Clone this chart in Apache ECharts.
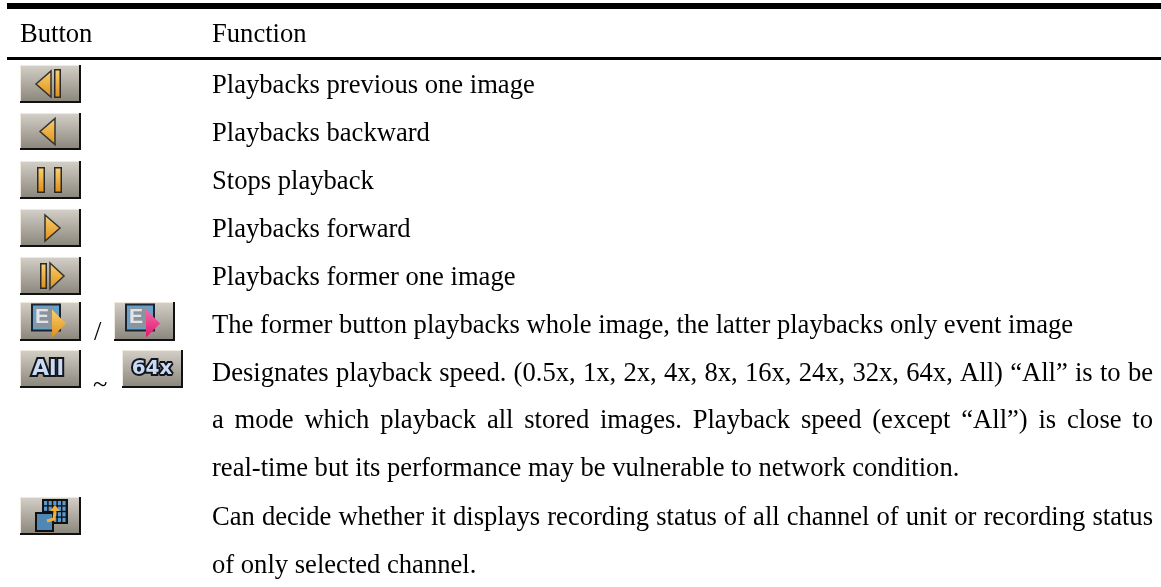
<!DOCTYPE html>
<html><head><meta charset="utf-8">
<style>html,body{margin:0;padding:0;background:#fff}#c{width:1161px;height:587px}</style>
<script src="https://cdn.jsdelivr.net/npm/echarts@6/dist/echarts.min.js"></script>
</head><body><div id="c"></div>
<script>
const headers = ["Button", "Function"];
const rowTexts = [
  ["Playbacks previous one image", false],
  ["Playbacks backward", false],
  ["Stops playback", false],
  ["Playbacks forward", false],
  ["Playbacks former one image", false],
  ["The former button playbacks whole image, the latter playbacks only event image", false],
  ["Designates playback speed. (0.5x, 1x, 2x, 4x, 8x, 16x, 24x, 32x, 64x, All) \u201cAll\u201d is to be", true],
  ["a mode which playback all stored images. Playback speed (except \u201cAll\u201d) is close to", true],
  ["real-time but its performance may be vulnerable to network condition.", false],
  ["Can decide whether it displays recording status of all channel of unit or recording status", true],
  ["of only selected channel.", false]
];
const rowBaselines = [93,141,189,237,285,333,381,428,476,525,573];
const iconRows = [
 {t:65,h:38,x:[20],k:['prev']},
 {t:113,h:37,x:[20],k:['back']},
 {t:161,h:38,x:[20],k:['pause']},
 {t:209,h:38,x:[20],k:['fwd']},
 {t:257,h:38,x:[20],k:['next']},
 {t:302,h:39,x:[20,114],k:['ev','evp']},
 {t:350,h:38,x:[20,122],k:['all','x64']},
 {t:497,h:38,x:[20],k:['grid']}
];
const sepText = [{s:'/',x:94,y:340},{s:'~',x:93,y:393}];
const fs = 26.6;
const font = fs+'px "Liberation Serif"';
const tx = 212, right = 1153;
const ctx = document.createElement('canvas').getContext('2d');
ctx.font = font;
const g = [];
function rect(x,y,w,h,fill,z){g.push({type:'rect',shape:{x,y,width:w,height:h},style:{fill},z:z||1,silent:true});}
function poly(points,fill,stroke,lw){g.push({type:'polygon',shape:{points},style:{fill,stroke:stroke||null,lineWidth:lw||0},z:3,silent:true});}
function grad(c1,c2){return new echarts.graphic.LinearGradient(0,0,0,1,[{offset:0,color:c1},{offset:1,color:c2}]);}
const orange = grad('#f8d070','#e09018');
function text(s,x,y){g.push({type:'text',x,y:y-fs*0.28,style:{text:s,font,fill:'#000',verticalAlign:'middle',align:'left'},z:5,silent:true});}
function bar(x,y,w,h){rect(x,y,w,h,'#2a2a2a',3);rect(x+1.5,y+1.5,w-3,h-3,orange,4);}
function label(s,x,y,size){
  g.push({type:'text',x,y,style:{text:s,font:'bold '+size+'px "DejaVu Sans"',fill:'#c8dcf6',stroke:'#14141c',lineWidth:4,verticalAlign:'middle',align:'center'},z:4,silent:true});
}
function icon(x,t,h,k){
  const w=61, c=t+h/2;
  rect(x,t,w,h,'#111');
  rect(x,t,w-2,h-2,'#efeadd');
  rect(x+1,t+1,w-3,h-3,grad('#d2cec6','#8c887e'));
  const ox=x, oy=c;
  if(k==='prev'){poly([[ox+16,oy],[ox+31,oy-13],[ox+31,oy+13]],orange,'#333',1.5);bar(ox+34,oy-15,7,29);}
  if(k==='back'){poly([[ox+20,oy],[ox+35,oy-13],[ox+35,oy+13]],orange,'#333',1.5);}
  if(k==='pause'){bar(ox+17,oy-13,8,26);bar(ox+34,oy-13,8,26);}
  if(k==='fwd'){poly([[ox+25,oy-13],[ox+40,oy],[ox+25,oy+13]],orange,'#333',1.5);}
  if(k==='next'){bar(ox+20,oy-13,7,26);poly([[ox+30,oy-13],[ox+44,oy],[ox+30,oy+13]],orange,'#333',1.5);}
  if(k==='ev'||k==='evp'){
    rect(ox+11,oy-18,30,28,'#1a2430',3);
    rect(ox+13,oy-16,26,24,'#6aa0c8',3);
    rect(ox+15,oy-14,19,20,'#8a949c',3);
    g.push({type:'text',x:ox+22,y:oy-4,style:{text:'E',font:'bold 21px "Liberation Sans"',fill:'#e0e4e8',verticalAlign:'middle',align:'center'},z:4,silent:true});
    poly([[ox+32,oy-12],[ox+46,oy+2],[ox+32,oy+16]],k==='ev'?orange:grad('#f46aa8','#e01870'),null,0);
  }
  if(k==='all') label('All',ox+28,c,22);
  if(k==='x64') label('64x',ox+30,c,20);
  if(k==='grid'){
    rect(ox+22,oy-17,26,25,'#111',3);
    for(let i=0;i<5;i++)for(let j=0;j<4;j++)rect(ox+24+i*4.6,oy-15+j*5.6,3.2,4.2,'#5a9ad0',3);
    rect(ox+15,oy-4,19,20,'#111',4);
    rect(ox+17,oy-2,15,16,'#4f88b4',4);
    g.push({type:'polyline',shape:{points:[[ox+27,oy+5],[ox+34,oy+3],[ox+35,oy-5]]},style:{stroke:'#f0b040',lineWidth:3,fill:null},z:5,silent:true});
    poly([[ox+30,oy-5],[ox+35,oy-11],[ox+40,oy-5]],'#f0b040',null,0);
  }
}
rect(7,3,1154,6,'#000');
rect(7,57,1154,3,'#000');
text(headers[0],20,42);
text(headers[1],tx,42);
rowTexts.forEach((r,i)=>{
  const y=rowBaselines[i];
  if(!r[1]){text(r[0],tx,y);return;}
  const words=r[0].split(' ');
  const total=words.reduce((a,w)=>a+ctx.measureText(w).width,0);
  const gap=(right-tx-total)/(words.length-1);
  let x=tx;
  words.forEach(w=>{text(w,x,y);x+=ctx.measureText(w).width+gap;});
});
iconRows.forEach(r=>r.x.forEach((x,i)=>icon(x,r.t,r.h,r.k[i])));
sepText.forEach(s=>text(s.s,s.x,s.y));
const chart=echarts.init(document.getElementById('c'),null,{renderer:'canvas'});
chart.setOption({animation:false,backgroundColor:'#fff',graphic:{elements:g}});
</script></body></html>
